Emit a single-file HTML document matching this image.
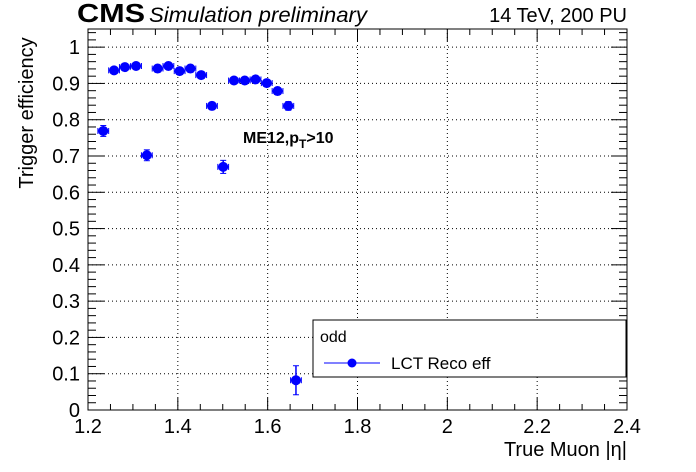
<!DOCTYPE html>
<html><head><meta charset="utf-8"><style>
body{margin:0;background:#fff}
svg{display:block;font-family:"Liberation Sans",sans-serif}
</style></head><body>
<svg id="c" width="696" height="472" xmlns="http://www.w3.org/2000/svg">
<text x="77" y="22" font-size="26" font-weight="bold" textLength="68" lengthAdjust="spacingAndGlyphs">CMS</text>
<text x="149" y="22" font-size="21" font-style="italic" textLength="218" lengthAdjust="spacingAndGlyphs">Simulation preliminary</text>
<text x="627" y="22" font-size="20" text-anchor="end">14 TeV, 200 PU</text>
<text x="627" y="456" font-size="20" text-anchor="end">True Muon |η|</text>
<text transform="translate(33,113) rotate(-90)" font-size="20" text-anchor="middle">Trigger efficiency</text>
<text x="243" y="143" font-size="16" font-weight="bold">ME12,p<tspan dy="5" font-size="12">T</tspan><tspan dy="-5">&gt;10</tspan></text>
<g id="grid"></g><g id="ticks"></g><g id="marks"></g>
<rect x="88" y="29" width="539" height="381" fill="none" stroke="#000" stroke-width="1"/>
<g>
<rect x="313" y="320" width="313" height="57" fill="#fff" stroke="#000"/>
<text x="320" y="342" font-size="16">odd</text>
<line x1="324" y1="363" x2="380" y2="363" stroke="#00f"/>
<circle cx="352" cy="363" r="4.5" fill="#00f"/>
<text x="391" y="369" font-size="17">LCT Reco eff</text>
</g>
</svg>
<script>
const etaValues=[1.234,1.258,1.282,1.307,1.331,1.355,1.379,1.404,1.428,1.452,1.476,1.501,1.525,1.549,1.573,1.598,1.622,1.646,1.663];
const effValues=[0.769,0.936,0.945,0.948,0.702,0.941,0.948,0.934,0.941,0.923,0.838,0.670,0.908,0.908,0.911,0.901,0.879,0.838,0.082];
const effErrors=[0.015,0.006,0.006,0.006,0.015,0.006,0.006,0.006,0.006,0.008,0.01,0.018,0.007,0.007,0.007,0.008,0.009,0.012,0.04];
const xTicks=[1.2,1.4,1.6,1.8,2,2.2,2.4];
const yTicks=[0,0.1,0.2,0.3,0.4,0.5,0.6,0.7,0.8,0.9,1];
const binHalf=0.012;
const X0=88,X1=627,Y0=410,Y1=29,XMIN=1.2,XMAX=2.4,YMAX=1.05;
const sx=v=>X0+(v-XMIN)/(XMAX-XMIN)*(X1-X0);
const sy=v=>Y0-v/YMAX*(Y0-Y1);
const NS="http://www.w3.org/2000/svg";
function mk(p,t,a){const e=document.createElementNS(NS,t);for(const k in a)e.setAttribute(k,a[k]);p.appendChild(e);return e;}
const grid=document.getElementById('grid'),ticks=document.getElementById('ticks'),marks=document.getElementById('marks');
xTicks.forEach(v=>{
 const x=sx(v);
 if(v>XMIN&&v<XMAX){const g=mk(grid,'line',{x1:x,y1:Y1,x2:x,y2:Y0,stroke:'#000','stroke-dasharray':'1,3','stroke-width':1});
 
 }
 const t=mk(ticks,'text',{x:x,y:433,'font-size':20,'text-anchor':'middle'});t.textContent=String(v===2?'2':v.toFixed(1));
 
 
});
for(let i=0;i<=24;i++){const v=XMIN+i*0.05,x=sx(v),L=i%4===0?12:6;
 mk(ticks,'line',{x1:x,y1:Y0,x2:x,y2:Y0-L,stroke:'#000'});mk(ticks,'line',{x1:x,y1:Y1,x2:x,y2:Y1+L,stroke:'#000'});}
yTicks.forEach(v=>{
 const y=sy(v);
 if(v>0){const g=mk(grid,'line',{x1:X0,y1:y,x2:X1,y2:y,stroke:'#000','stroke-dasharray':'1,3','stroke-width':1});
 
 }
 const t=mk(ticks,'text',{x:80,y:y+7,'font-size':20,'text-anchor':'end'});t.textContent=v===0?'0':v===1?'1':String(v);
 
 
});
for(let i=0;i<=52;i++){const v=i*0.02,y=sy(v),L=i%5===0?16:8;
 mk(ticks,'line',{x1:X0,y1:y,x2:X0+L,y2:y,stroke:'#000'});mk(ticks,'line',{x1:X1,y1:y,x2:X1-L,y2:y,stroke:'#000'});}
etaValues.forEach((e,i)=>{
 const x=sx(e),y=sy(effValues[i]);
 const g=mk(marks,'g',{});
 
 
 const xa=sx(e-binHalf),xb=sx(e+binHalf),ya=sy(effValues[i]+effErrors[i]),yb=sy(effValues[i]-effErrors[i]);
 mk(g,'line',{x1:xa,y1:y,x2:xb,y2:y,stroke:'#00f','stroke-width':1.5});
 mk(g,'line',{x1:xa,y1:y-3,x2:xa,y2:y+3,stroke:'#00f'});mk(g,'line',{x1:xb,y1:y-3,x2:xb,y2:y+3,stroke:'#00f'});
 mk(g,'line',{x1:x,y1:ya,x2:x,y2:yb,stroke:'#00f','stroke-width':1.5});
 mk(g,'line',{x1:x-3,y1:ya,x2:x+3,y2:ya,stroke:'#00f'});mk(g,'line',{x1:x-3,y1:yb,x2:x+3,y2:yb,stroke:'#00f'});
 mk(g,'circle',{cx:x,cy:y,r:5,fill:'#00f'});
});
</script>
</body></html>
